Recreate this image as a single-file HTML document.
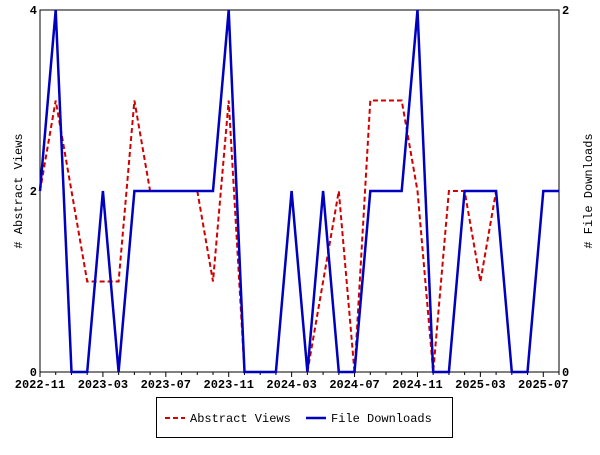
<!DOCTYPE html>
<html><head><meta charset="utf-8"><style>
body{margin:0;background:#fff;}
svg text{font-family:"Liberation Mono",monospace;font-size:12px;fill:#000;}
</style></head><body>
<svg width="600" height="450" xmlns="http://www.w3.org/2000/svg">
<g id="plot"></g>
</svg>
<script>
const months=["2022-11","2022-12","2023-01","2023-02","2023-03","2023-04","2023-05","2023-06","2023-07","2023-08","2023-09","2023-10","2023-11","2023-12","2024-01","2024-02","2024-03","2024-04","2024-05","2024-06","2024-07","2024-08","2024-09","2024-10","2024-11","2024-12","2025-01","2025-02","2025-03","2025-04","2025-05","2025-06","2025-07","2025-08"];
const abstractViews=[2,3,2,1,1,1,3,2,null,null,2,1,3,0,null,null,null,0,1,2,0,3,3,3,2,0,2,2,1,2,null,null,null,null];
const fileDownloads=[1,2,0,0,1,0,1,1,1,1,1,1,2,0,0,0,1,0,1,0,0,1,1,1,2,0,0,1,1,1,0,0,1,1];
const xTickLabels=["2022-11","2023-03","2023-07","2023-11","2024-03","2024-07","2024-11","2025-03","2025-07"];
const leftTicks=[0,2,4];
const rightTicks=[0,2];
const L=40,R=559,T=10,B=372;
const NS="http://www.w3.org/2000/svg";
const svg=document.querySelector('svg');
function x(i){return L+i*(R-L)/(months.length-1);}
function yl(v){return B-v*(B-T)/4;}
function yr(v){return B-v*(B-T)/2;}
function mk(tag,attrs,parent){const e=document.createElementNS(NS,tag);for(const k in attrs)e.setAttribute(k,attrs[k]);(parent||svg).appendChild(e);return e;}
const fr=mk('rect',{x:L,y:T,width:R-L,height:B-T,fill:'none',stroke:'#000','stroke-width':1});


months.forEach((m,i)=>{
  const t=mk('line',{x1:x(i),x2:x(i),y1:B,y2:B+(m.endsWith('-03')||m.endsWith('-07')||m.endsWith('-11')?5:3),stroke:'#000'});
  
  
  if(xTickLabels.includes(m)){
    const tx=mk('text',{x:x(i),y:B+16,'text-anchor':'middle','font-weight':'bold'});
    tx.textContent=m;
    
    
  }
});
leftTicks.forEach(v=>{
  const tx=mk('text',{x:L-3,y:yl(v)+4,'text-anchor':'end','font-weight':'bold'});
  tx.textContent=v;
  
  
});
rightTicks.forEach(v=>{
  const tx=mk('text',{x:R+3,y:yr(v)+4,'text-anchor':'start','font-weight':'bold'});
  tx.textContent=v;
  
  
});
const yt=mk('text',{x:0,y:0,transform:'translate(22,191) rotate(-90)','text-anchor':'middle','font-size':15});
yt.textContent='# Abstract Views';


const yt2=mk('text',{x:0,y:0,transform:'translate(592,191) rotate(-90)','text-anchor':'middle','font-size':15});
yt2.textContent='# File Downloads';


function path(vals,yf){let d='',pen=false;vals.forEach((v,i)=>{if(v===null){pen=false;return;}d+=(pen?'L':'M')+x(i).toFixed(1)+','+yf(v).toFixed(1);pen=true;});return d;}
const av=mk('path',{d:path(abstractViews,yl),fill:'none',stroke:'#d00000','stroke-width':2,'stroke-dasharray':'5,3'});


const fd=mk('path',{d:path(fileDownloads,yr),fill:'none',stroke:'#0000c0','stroke-width':2.5});


const lg=mk('g',{});


mk('rect',{x:156.5,y:397.5,width:296,height:40,fill:'#fff',stroke:'#000'},lg);
mk('line',{x1:165,x2:185,y1:418,y2:418,stroke:'#d00000','stroke-width':2,'stroke-dasharray':'5,3'},lg);
const l1=mk('text',{x:190,y:422},lg);l1.textContent='Abstract Views';


mk('line',{x1:306,x2:326,y1:418,y2:418,stroke:'#0000c0','stroke-width':2.5},lg);
const l2=mk('text',{x:331,y:422},lg);l2.textContent='File Downloads';


</script>
</body></html>
